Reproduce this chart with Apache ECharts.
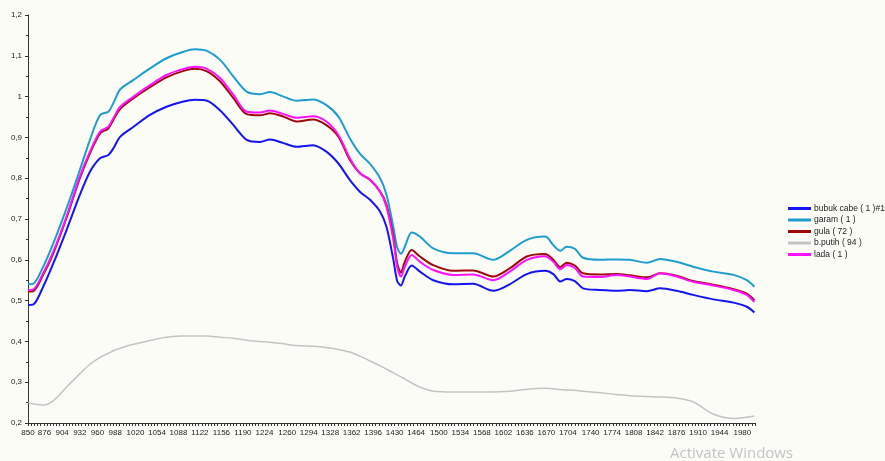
<!DOCTYPE html>
<html>
<head>
<meta charset="utf-8">
<script src="https://cdn.jsdelivr.net/npm/echarts@6/dist/echarts.min.js"></script>
<style>
  html, body { margin: 0; padding: 0; background: #fcfcf7; }
  #chart { width: 885px; height: 461px; }
</style>
</head>
<body>
<div id="chart"></div>
<script>
// wavelength (nm) of each sample
var wavelengths = [850, 858, 874, 890, 911, 932, 948, 964, 977, 985,
  996, 1017, 1043, 1069, 1096, 1114, 1133, 1154, 1175, 1196,
  1217, 1233, 1254, 1275, 1301, 1322, 1341, 1359, 1375, 1391,
  1407, 1417, 1428, 1434, 1440, 1446, 1457, 1470, 1491, 1523,
  1554, 1586, 1612, 1639, 1668, 1681, 1692, 1702, 1715, 1728,
  1755, 1781, 1802, 1829, 1850, 1876, 1902, 1934, 1966, 1987, 1999];

var bubukCabe = [0.489, 0.490, 0.534, 0.591, 0.673, 0.759, 0.816, 0.849, 0.857, 0.873,
  0.902, 0.926, 0.955, 0.975, 0.988, 0.992, 0.990, 0.966, 0.930, 0.894,
  0.889, 0.895, 0.886, 0.877, 0.881, 0.865, 0.836, 0.796, 0.767, 0.747,
  0.718, 0.681, 0.600, 0.548, 0.537, 0.559, 0.586, 0.571, 0.550, 0.540,
  0.541, 0.524, 0.540, 0.565, 0.573, 0.565, 0.547, 0.553, 0.548, 0.530,
  0.526, 0.524, 0.526, 0.523, 0.530, 0.524, 0.514, 0.503, 0.495, 0.485, 0.471];

var garam = [0.540, 0.541, 0.583, 0.640, 0.726, 0.820, 0.894, 0.955, 0.963, 0.984,
  1.018, 1.041, 1.069, 1.094, 1.110, 1.116, 1.112, 1.090, 1.049, 1.012,
  1.006, 1.011, 1.000, 0.990, 0.993, 0.979, 0.951, 0.898, 0.860, 0.835,
  0.800, 0.760, 0.680, 0.630, 0.615, 0.632, 0.667, 0.657, 0.628, 0.616,
  0.616, 0.600, 0.622, 0.649, 0.657, 0.636, 0.622, 0.632, 0.627, 0.605,
  0.600, 0.601, 0.600, 0.593, 0.602, 0.595, 0.583, 0.571, 0.563, 0.550, 0.534];

var gula = [0.522, 0.523, 0.563, 0.616, 0.703, 0.800, 0.861, 0.910, 0.922, 0.943,
  0.970, 0.996, 1.023, 1.047, 1.063, 1.068, 1.062, 1.037, 0.996, 0.957,
  0.954, 0.959, 0.951, 0.939, 0.944, 0.930, 0.902, 0.845, 0.812, 0.796,
  0.767, 0.735, 0.657, 0.591, 0.569, 0.595, 0.624, 0.608, 0.587, 0.573,
  0.574, 0.559, 0.579, 0.608, 0.614, 0.600, 0.582, 0.593, 0.586, 0.567,
  0.564, 0.565, 0.562, 0.557, 0.567, 0.561, 0.548, 0.539, 0.528, 0.517, 0.501];

var bPutih = [0.250, 0.247, 0.244, 0.254, 0.288, 0.321, 0.344, 0.361, 0.371, 0.377,
  0.383, 0.393, 0.402, 0.410, 0.413, 0.413, 0.413, 0.410, 0.408, 0.403,
  0.400, 0.398, 0.394, 0.390, 0.388, 0.385, 0.380, 0.374, 0.364, 0.352,
  0.340, 0.332, 0.323, 0.318, 0.313, 0.308, 0.298, 0.288, 0.278, 0.276,
  0.276, 0.276, 0.278, 0.283, 0.285, 0.284, 0.282, 0.281, 0.280, 0.278,
  0.274, 0.270, 0.267, 0.265, 0.264, 0.261, 0.252, 0.222, 0.211, 0.214, 0.217];

var lada = [0.526, 0.527, 0.567, 0.620, 0.706, 0.804, 0.865, 0.914, 0.926, 0.947,
  0.975, 1.000, 1.028, 1.053, 1.068, 1.073, 1.068, 1.045, 1.004, 0.963,
  0.961, 0.966, 0.957, 0.948, 0.952, 0.939, 0.906, 0.849, 0.812, 0.796,
  0.767, 0.730, 0.649, 0.583, 0.559, 0.583, 0.612, 0.595, 0.575, 0.563,
  0.564, 0.550, 0.571, 0.600, 0.609, 0.595, 0.577, 0.587, 0.580, 0.559,
  0.558, 0.563, 0.559, 0.553, 0.567, 0.559, 0.546, 0.537, 0.526, 0.514, 0.497];

var xTickLabels = [850, 876, 904, 932, 960, 988, 1020, 1054, 1088, 1122, 1156, 1190,
  1224, 1260, 1294, 1328, 1362, 1396, 1430, 1464, 1500, 1534, 1568, 1602,
  1636, 1670, 1704, 1740, 1774, 1808, 1842, 1876, 1910, 1944, 1980];

var seriesNames = ['bubuk cabe ( 1 )#1', 'garam ( 1 )', 'gula ( 72 )', 'b.putih ( 94 )', 'lada ( 1 )'];
var seriesValues = [bubukCabe, garam, gula, bPutih, lada];
var colorList = ['#1414f5', '#1e9ecf', '#9e0a0a', '#c3c3c3', '#ff10ff'];

function pairs(vals) {
  return wavelengths.map(function (w, i) { return [w, vals[i]]; });
}

var myChart = echarts.init(document.getElementById('chart'));
var option = {
  backgroundColor: '#fcfcf7',
  animation: false,
  textStyle: { fontFamily: 'Liberation Sans, Arial, sans-serif' },
  grid: { left: 28, right: 130, top: 15, bottom: 38 },
  legend: {
    orient: 'vertical',
    left: 783,
    top: 199,
    itemWidth: 23,
    itemHeight: 3,
    itemGap: 2.5,
    icon: 'rect',
    textStyle: { color: '#222', fontSize: 8.5, padding: [0, 0, 0, -2] },
    data: seriesNames
  },
  xAxis: {
    type: 'value',
    min: 850,
    max: 2000,
    interval: 5,
    splitLine: { show: false },
    axisLine: { lineStyle: { color: '#333', width: 1 } },
    axisTick: { length: 3, lineStyle: { color: '#333' } },
    axisLabel: {
      customValues: xTickLabels,
      color: '#222',
      fontSize: 8,
      margin: 6,
      formatter: function (v) { return String(v); }
    }
  },
  yAxis: {
    type: 'value',
    min: 0.2,
    max: 1.2,
    interval: 0.1,
    splitLine: { show: false },
    axisLine: { show: true, lineStyle: { color: '#333', width: 1 } },
    axisTick: { show: true, length: 3, lineStyle: { color: '#333' } },
    minorTick: { show: true, splitNumber: 2, length: 2, lineStyle: { color: '#333' } },
    axisLabel: {
      color: '#222',
      fontSize: 8,
      margin: 6,
      formatter: function (v) {
        return String(Math.round(v * 10) / 10).replace('.', ',');
      }
    }
  },
  graphic: [{
    type: 'text',
    left: 670,
    top: 446,
    style: { text: 'Activate Windows', fill: '#c4c4c4', fontSize: 15, fontFamily: 'Open Sans, sans-serif' }
  }],
  series: seriesNames.map(function (name, i) {
    return {
      name: name,
      type: 'line',
      data: pairs(seriesValues[i]),
      smooth: 0.3,
      showSymbol: false,
      lineStyle: { color: colorList[i], width: i === 3 ? 1.5 : 2 },
      itemStyle: { color: colorList[i] },
      z: i === 4 ? 3 : 2
    };
  })
};
option && myChart.setOption(option);
</script>
</body>
</html>
